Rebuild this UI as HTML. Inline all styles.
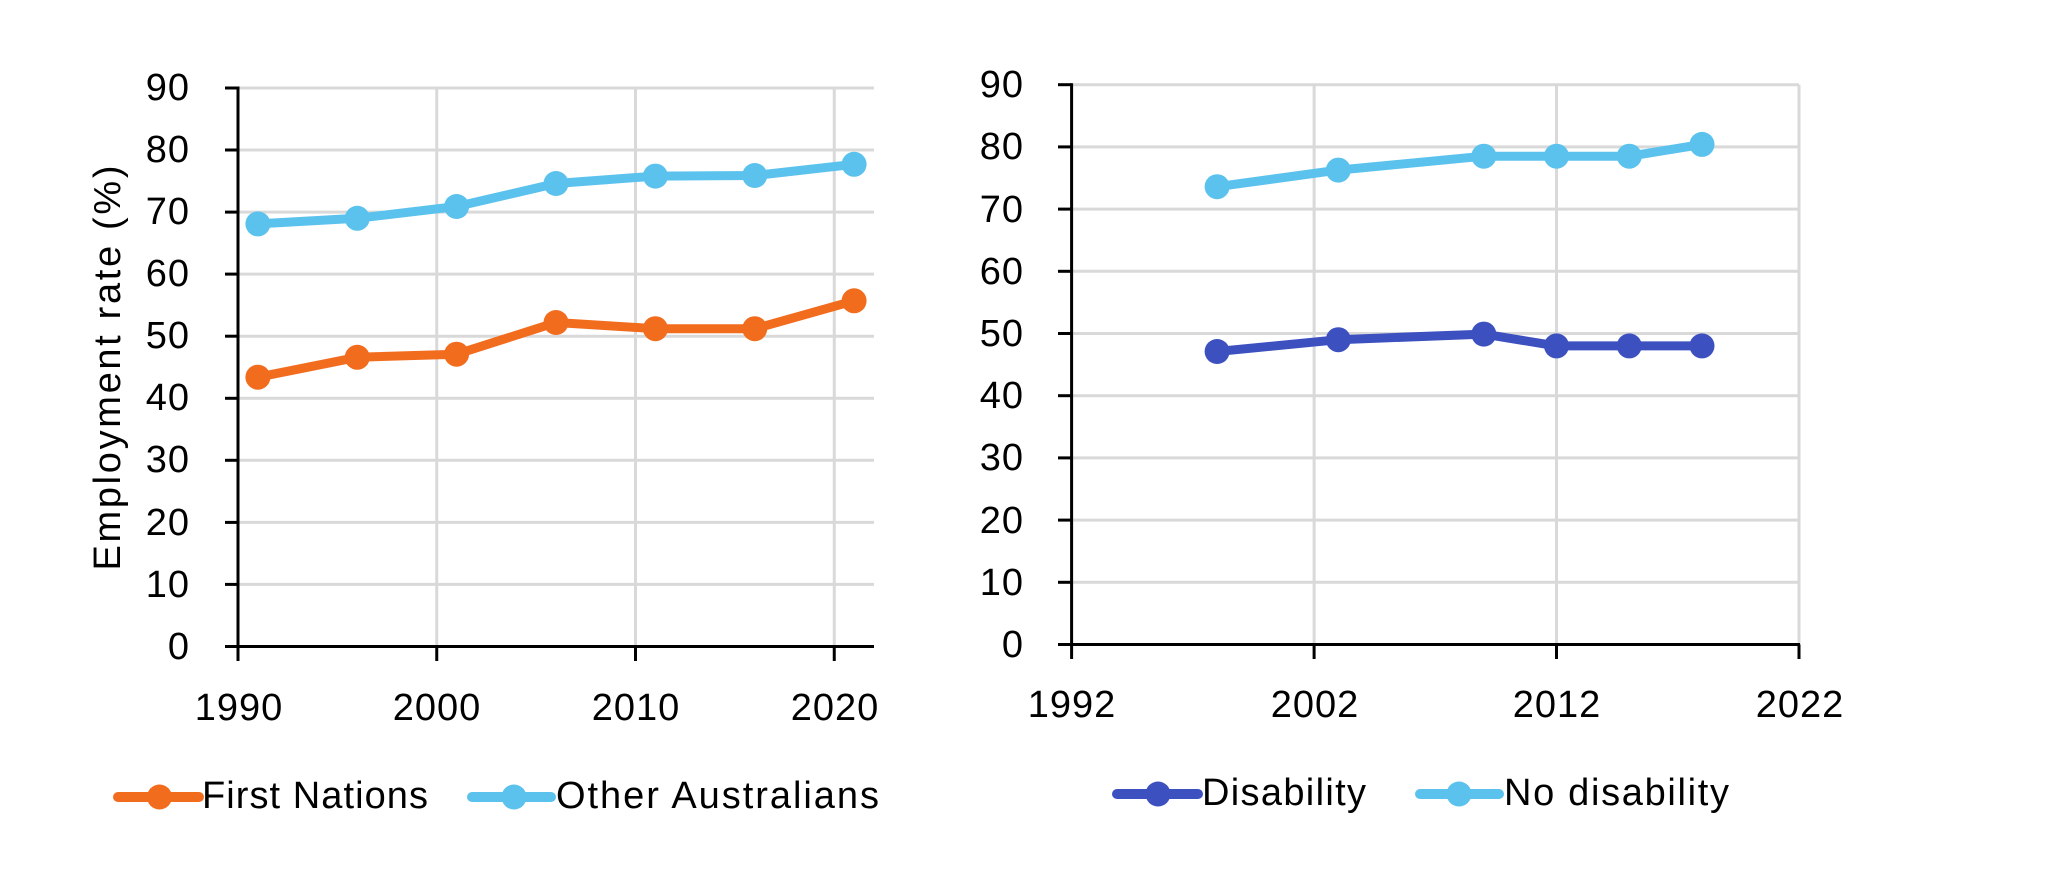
<!DOCTYPE html>
<html>
<head>
<meta charset="utf-8">
<style>
html,body{margin:0;padding:0;background:#fff;}
svg{display:block;}
text{font-family:"Liberation Sans",Arial,sans-serif;font-size:38px;fill:#000;letter-spacing:1px;}
</style>
</head>
<body>
<svg width="2048" height="879" viewBox="0 0 2048 879" xmlns="http://www.w3.org/2000/svg">
<rect width="2048" height="879" fill="#fff"/>

<!-- ================= LEFT CHART ================= -->
<g stroke="#d9d9d9" stroke-width="3" fill="none">
  <line x1="238" y1="584.4" x2="874" y2="584.4"/>
  <line x1="238" y1="522.4" x2="874" y2="522.4"/>
  <line x1="238" y1="460.3" x2="874" y2="460.3"/>
  <line x1="238" y1="398.3" x2="874" y2="398.3"/>
  <line x1="238" y1="336.2" x2="874" y2="336.2"/>
  <line x1="238" y1="274.1" x2="874" y2="274.1"/>
  <line x1="238" y1="212.1" x2="874" y2="212.1"/>
  <line x1="238" y1="150.0" x2="874" y2="150.0"/>
  <line x1="238" y1="88.0" x2="874" y2="88.0"/>
  <line x1="436.75" y1="88" x2="436.75" y2="646.5"/>
  <line x1="635.5" y1="88" x2="635.5" y2="646.5"/>
  <line x1="834.25" y1="88" x2="834.25" y2="646.5"/>
</g>
<g stroke="#000" stroke-width="3" fill="none">
  <line x1="238" y1="86.5" x2="238" y2="661"/>
  <line x1="225" y1="646.5" x2="874" y2="646.5"/>
  <line x1="225" y1="584.4" x2="238" y2="584.4"/>
  <line x1="225" y1="522.4" x2="238" y2="522.4"/>
  <line x1="225" y1="460.3" x2="238" y2="460.3"/>
  <line x1="225" y1="398.3" x2="238" y2="398.3"/>
  <line x1="225" y1="336.2" x2="238" y2="336.2"/>
  <line x1="225" y1="274.1" x2="238" y2="274.1"/>
  <line x1="225" y1="212.1" x2="238" y2="212.1"/>
  <line x1="225" y1="150.0" x2="238" y2="150.0"/>
  <line x1="225" y1="88.0" x2="238" y2="88.0"/>
  <line x1="436.75" y1="646.5" x2="436.75" y2="661"/>
  <line x1="635.5" y1="646.5" x2="635.5" y2="661"/>
  <line x1="834.25" y1="646.5" x2="834.25" y2="661"/>
</g>
<g text-anchor="end">
  <text x="190" y="659">0</text>
  <text x="190" y="597">10</text>
  <text x="190" y="535">20</text>
  <text x="190" y="472">30</text>
  <text x="190" y="410">40</text>
  <text x="190" y="348">50</text>
  <text x="190" y="286">60</text>
  <text x="190" y="224">70</text>
  <text x="190" y="162">80</text>
  <text x="190" y="100">90</text>
</g>
<g text-anchor="middle">
  <text x="239" y="720">1990</text>
  <text x="437" y="720">2000</text>
  <text x="636" y="720">2010</text>
  <text x="835" y="720">2020</text>
</g>
<text transform="translate(120,368) rotate(-90)" text-anchor="middle" textLength="405" lengthAdjust="spacing" style="letter-spacing:0">Employment rate (%)</text>

<!-- Other Australians -->
<polyline fill="none" stroke="#5bc2ee" stroke-width="9" stroke-linejoin="round"
  points="257.9,223.9 357.25,218.3 456.6,206.5 556,183.5 655.4,176.1 754.75,175.5 854.1,164.3"/>
<g fill="#5bc2ee">
  <circle cx="257.9" cy="223.9" r="12.5"/>
  <circle cx="357.25" cy="218.3" r="12.5"/>
  <circle cx="456.6" cy="206.5" r="12.5"/>
  <circle cx="556" cy="183.5" r="12.5"/>
  <circle cx="655.4" cy="176.1" r="12.5"/>
  <circle cx="754.75" cy="175.5" r="12.5"/>
  <circle cx="854.1" cy="164.3" r="12.5"/>
</g>
<!-- First Nations -->
<polyline fill="none" stroke="#f26c1e" stroke-width="9" stroke-linejoin="round"
  points="257.9,377.2 357.25,357.3 456.6,354.2 556,322.5 655.4,328.7 754.75,328.7 854.1,300.8"/>
<g fill="#f26c1e">
  <circle cx="257.9" cy="377.2" r="12.5"/>
  <circle cx="357.25" cy="357.3" r="12.5"/>
  <circle cx="456.6" cy="354.2" r="12.5"/>
  <circle cx="556" cy="322.5" r="12.5"/>
  <circle cx="655.4" cy="328.7" r="12.5"/>
  <circle cx="754.75" cy="328.7" r="12.5"/>
  <circle cx="854.1" cy="300.8" r="12.5"/>
</g>

<!-- Left legend -->
<line x1="118" y1="797" x2="199" y2="797" stroke="#f26c1e" stroke-width="10" stroke-linecap="round"/>
<circle cx="159.5" cy="797" r="12.5" fill="#f26c1e"/>
<text x="202" y="808" textLength="226" lengthAdjust="spacing" style="letter-spacing:0">First Nations</text>
<line x1="472" y1="797" x2="551" y2="797" stroke="#5bc2ee" stroke-width="10" stroke-linecap="round"/>
<circle cx="514" cy="797" r="12.5" fill="#5bc2ee"/>
<text x="556" y="808" textLength="323" lengthAdjust="spacing" style="letter-spacing:0">Other Australians</text>

<!-- ================= RIGHT CHART ================= -->
<g stroke="#d9d9d9" stroke-width="3" fill="none">
  <line x1="1071.6" y1="582.3" x2="1799" y2="582.3"/>
  <line x1="1071.6" y1="520.1" x2="1799" y2="520.1"/>
  <line x1="1071.6" y1="457.9" x2="1799" y2="457.9"/>
  <line x1="1071.6" y1="395.7" x2="1799" y2="395.7"/>
  <line x1="1071.6" y1="333.5" x2="1799" y2="333.5"/>
  <line x1="1071.6" y1="271.3" x2="1799" y2="271.3"/>
  <line x1="1071.6" y1="209.1" x2="1799" y2="209.1"/>
  <line x1="1071.6" y1="146.9" x2="1799" y2="146.9"/>
  <line x1="1071.6" y1="84.7" x2="1799" y2="84.7"/>
  <line x1="1314.1" y1="84.7" x2="1314.1" y2="644.5"/>
  <line x1="1556.5" y1="84.7" x2="1556.5" y2="644.5"/>
  <line x1="1799" y1="84.7" x2="1799" y2="644.5"/>
</g>
<g stroke="#000" stroke-width="3" fill="none">
  <line x1="1071.6" y1="83.2" x2="1071.6" y2="659"/>
  <line x1="1058" y1="644.5" x2="1800" y2="644.5"/>
  <line x1="1058" y1="582.3" x2="1071.6" y2="582.3"/>
  <line x1="1058" y1="520.1" x2="1071.6" y2="520.1"/>
  <line x1="1058" y1="457.9" x2="1071.6" y2="457.9"/>
  <line x1="1058" y1="395.7" x2="1071.6" y2="395.7"/>
  <line x1="1058" y1="333.5" x2="1071.6" y2="333.5"/>
  <line x1="1058" y1="271.3" x2="1071.6" y2="271.3"/>
  <line x1="1058" y1="209.1" x2="1071.6" y2="209.1"/>
  <line x1="1058" y1="146.9" x2="1071.6" y2="146.9"/>
  <line x1="1058" y1="84.7" x2="1071.6" y2="84.7"/>
  <line x1="1314.1" y1="644.5" x2="1314.1" y2="659"/>
  <line x1="1556.5" y1="644.5" x2="1556.5" y2="659"/>
  <line x1="1799" y1="644.5" x2="1799" y2="659"/>
</g>
<g text-anchor="end">
  <text x="1024" y="657">0</text>
  <text x="1024" y="595">10</text>
  <text x="1024" y="533">20</text>
  <text x="1024" y="470">30</text>
  <text x="1024" y="408">40</text>
  <text x="1024" y="346">50</text>
  <text x="1024" y="284">60</text>
  <text x="1024" y="222">70</text>
  <text x="1024" y="159">80</text>
  <text x="1024" y="97">90</text>
</g>
<g text-anchor="middle">
  <text x="1072" y="717">1992</text>
  <text x="1315" y="717">2002</text>
  <text x="1557" y="717">2012</text>
  <text x="1800" y="717">2022</text>
</g>

<!-- No disability -->
<polyline fill="none" stroke="#5bc2ee" stroke-width="9" stroke-linejoin="round"
  points="1217.1,186.7 1338.3,170.1 1483.8,156.2 1556.5,156.2 1629.3,156.2 1702,144.4"/>
<g fill="#5bc2ee">
  <circle cx="1217.1" cy="186.7" r="12.5"/>
  <circle cx="1338.3" cy="170.1" r="12.5"/>
  <circle cx="1483.8" cy="156.2" r="12.5"/>
  <circle cx="1556.5" cy="156.2" r="12.5"/>
  <circle cx="1629.3" cy="156.2" r="12.5"/>
  <circle cx="1702" cy="144.4" r="12.5"/>
</g>
<!-- Disability -->
<polyline fill="none" stroke="#3d50c0" stroke-width="9" stroke-linejoin="round"
  points="1217.1,351.5 1338.3,339.7 1483.8,334.1 1556.5,345.9 1629.3,345.9 1702,345.9"/>
<g fill="#3d50c0">
  <circle cx="1217.1" cy="351.5" r="12.5"/>
  <circle cx="1338.3" cy="339.7" r="12.5"/>
  <circle cx="1483.8" cy="334.1" r="12.5"/>
  <circle cx="1556.5" cy="345.9" r="12.5"/>
  <circle cx="1629.3" cy="345.9" r="12.5"/>
  <circle cx="1702" cy="345.9" r="12.5"/>
</g>

<!-- Right legend -->
<line x1="1117" y1="794" x2="1198" y2="794" stroke="#3d50c0" stroke-width="10" stroke-linecap="round"/>
<circle cx="1158" cy="794" r="12.5" fill="#3d50c0"/>
<text x="1202" y="805" textLength="164" lengthAdjust="spacing" style="letter-spacing:0">Disability</text>
<line x1="1420" y1="794" x2="1499" y2="794" stroke="#5bc2ee" stroke-width="10" stroke-linecap="round"/>
<circle cx="1459" cy="794" r="12.5" fill="#5bc2ee"/>
<text x="1504" y="805" textLength="225" lengthAdjust="spacing" style="letter-spacing:0">No disability</text>
</svg>
</body>
</html>
